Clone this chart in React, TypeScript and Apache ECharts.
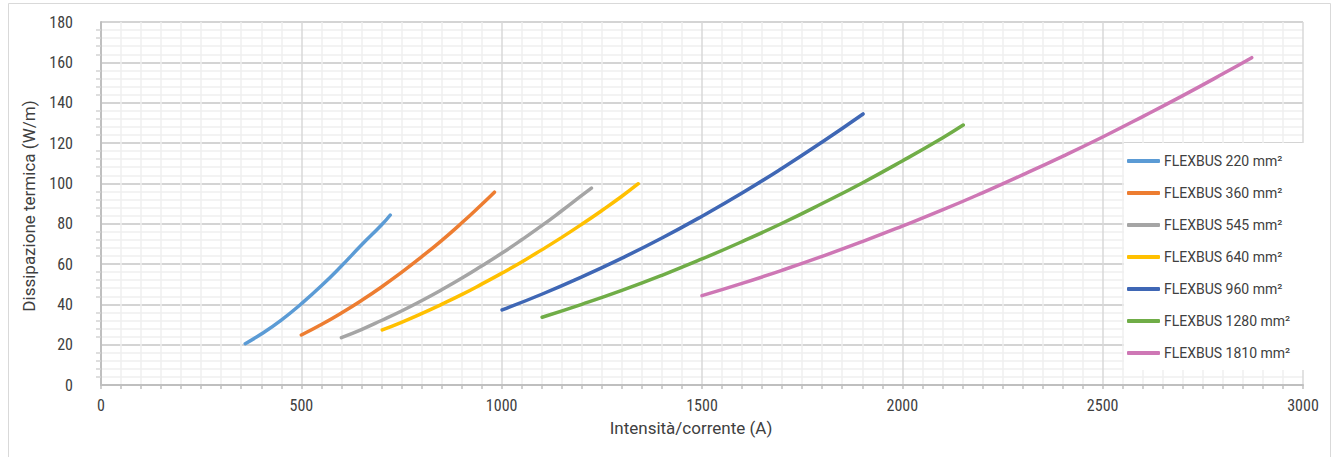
import React, { useEffect, useRef } from "react";
import * as echarts from "echarts";

const seriesNames = [
  "FLEXBUS 220 mm²",
  "FLEXBUS 360 mm²",
  "FLEXBUS 545 mm²",
  "FLEXBUS 640 mm²",
  "FLEXBUS 960 mm²",
  "FLEXBUS 1280 mm²",
  "FLEXBUS 1810 mm²",
];
const seriesColors = ["#5B9BD5", "#ED7D31", "#A5A5A5", "#FFC000", "#3F67B5", "#70AD47", "#CE77B5"];

const current220 = [360, 400, 450, 500, 550, 600, 650, 700, 722];
const heat220 = [20.5, 25.3, 32.2, 40.3, 49.2, 59, 69.4, 79.3, 84.3];
const current360 = [500, 550, 600, 650, 700, 750, 800, 850, 900, 950, 982];
const heat360 = [24.8, 30, 35.7, 41.9, 48.6, 55.8, 63.5, 71.6, 80.3, 89.5, 95.6];
const current545 = [600, 650, 700, 750, 800, 850, 900, 950, 1000, 1050, 1100, 1150, 1200, 1224];
const heat545 = [23.5, 27.5, 32, 36.7, 41.8, 47.2, 52.9, 59, 65.3, 72, 79, 86.4, 94, 97.6];
const current640 = [702, 750, 800, 850, 900, 950, 1000, 1050, 1100, 1150, 1200, 1250, 1300, 1341];
const heat640 = [27.3, 31.1, 35.4, 40, 44.8, 50, 55.4, 61, 67, 73.2, 79.7, 86.5, 93.6, 99.8];
const current960 = [1001, 1100, 1200, 1300, 1400, 1500, 1600, 1700, 1800, 1902];
const heat960 = [37.2, 45, 53.6, 62.9, 72.9, 83.7, 95.2, 107.5, 120.5, 134.4];
const current1280 = [1101, 1200, 1300, 1400, 1500, 1600, 1700, 1800, 1900, 2000, 2100, 2152];
const heat1280 = [33.6, 40, 46.9, 54.4, 62.5, 71.1, 80.2, 90, 100.2, 111.1, 122.5, 128.9];
const current1810 = [1500, 1600, 1700, 1800, 1900, 2000, 2100, 2200, 2300, 2400, 2500, 2600, 2700, 2800, 2872];
const heat1810 = [44.3, 50.4, 56.9, 63.8, 71.1, 78.8, 86.8, 95.3, 104.2, 113.4, 123, 133.1, 143.5, 154.3, 162.3];

const currents = [current220, current360, current545, current640, current960, current1280, current1810];
const heats = [heat220, heat360, heat545, heat640, heat960, heat1280, heat1810];

const xTitle = "Intensità/corrente (A)";
const yTitle = "Dissipazione termica (W/m)";

const condensed = "'Roboto Condensed', 'Liberation Sans Narrow', 'Arial Narrow', Roboto, sans-serif";
const textColor = "#404040";

export default function App() {
  const ref = useRef<HTMLDivElement>(null);
  useEffect(() => {
    if (!ref.current) return;
    const chart = echarts.init(ref.current, undefined, { renderer: "svg" });
    const series = seriesNames.map((name, i) => ({
      name,
      type: "line",
      smooth: true,
      symbol: "none",
      data: currents[i].map((x, j) => [x, heats[i][j]]),
      lineStyle: { color: seriesColors[i], width: 3.5, cap: "round" },
      itemStyle: { color: seriesColors[i] },
    }));
    chart.setOption({
      animation: false,
      backgroundColor: "#ffffff",
      textStyle: { fontFamily: "Roboto, sans-serif" },
      graphic: [
        {
          type: "rect",
          shape: { x: 8.5, y: 3.5, width: 1322, height: 470 },
          style: { fill: "none", stroke: "#d9d9d9", lineWidth: 1 },
          silent: true,
          z: -10,
        },
      ],
      grid: { left: 101, right: 30, top: 22, bottom: 72, containLabel: false },
      legend: {
        orient: "vertical",
        left: 1124,
        top: 143,
        padding: [10, 18, 9, 3],
        itemGap: 16,
        itemWidth: 33,
        itemHeight: 4,
        icon: "roundRect",
        backgroundColor: "#ffffff",
        data: seriesNames,
        textStyle: { color: textColor, fontSize: 14, fontFamily: "Roboto, sans-serif", lineHeight: 16, padding: [0, 0, 0, -1] },
      },
      xAxis: {
        type: "value",
        min: 0,
        max: 3000,
        interval: 500,
        name: xTitle,
        nameLocation: "middle",
        nameGap: 34,
        nameTextStyle: { color: textColor, fontSize: 17, fontFamily: "Roboto, sans-serif", padding: [0, 22, 0, 0] },
        axisLine: { show: true, lineStyle: { color: "#bfbfbf", width: 2 } },
        axisTick: { show: true, length: 4, lineStyle: { color: "#bfbfbf", width: 1.5 } },
        minorTick: { show: true, splitNumber: 10, length: 4, lineStyle: { color: "#bfbfbf", width: 1.5 } },
        axisLabel: { color: textColor, fontSize: 16, fontFamily: condensed, margin: 12, formatter: (v: number) => String(v) },
        splitLine: { show: true, lineStyle: { color: "#d9d9d9", width: 1.5 } },
        minorSplitLine: { show: true, lineStyle: { color: "#efefef", width: 1.5 } },
      },
      yAxis: {
        type: "value",
        min: 0,
        max: 180,
        interval: 20,
        name: yTitle,
        nameLocation: "middle",
        nameGap: 64,
        nameTextStyle: { color: textColor, fontSize: 17, fontFamily: "Roboto, sans-serif", padding: [0, 5, 0, 0] },
        axisLine: { show: true, lineStyle: { color: "#bfbfbf", width: 2 } },
        axisTick: { show: false },
        minorTick: { show: true, splitNumber: 5, inside: true, length: 5, lineStyle: { color: "#d3d3d3", width: 1.5 } },
        axisLabel: { color: textColor, fontSize: 16, fontFamily: condensed, margin: 28, padding: [0, 0, 4, 0] },
        splitLine: { show: true, lineStyle: { color: "#c6c6c6", width: 1.5 } },
        minorSplitLine: { show: true, lineStyle: { color: "#efefef", width: 1.5 } },
      },
      series,
    });
    return () => chart.dispose();
  }, []);
  return (
    <div style={{ position: "absolute", left: 0, top: 0, width: 1333, height: 457 }}>
      <div ref={ref} style={{ width: 1333, height: 457 }} />
    </div>
  );
}
